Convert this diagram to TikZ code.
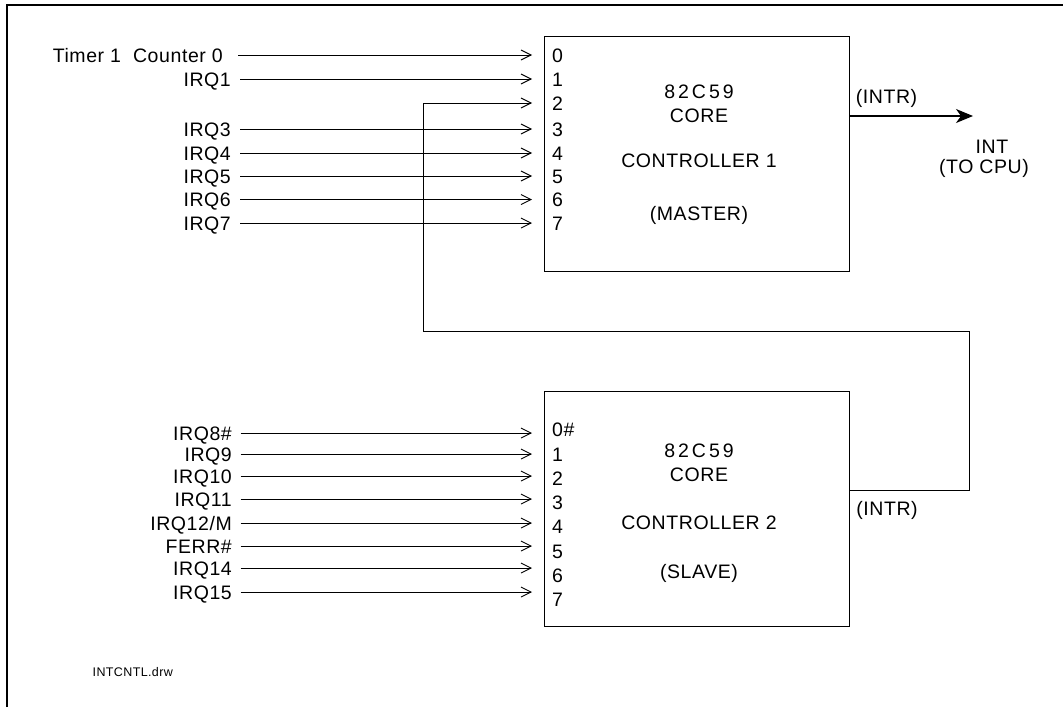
\documentclass[tikz,border=0pt]{standalone}
\usepackage{fontspec}
\setmainfont{Liberation Sans}
\newfontfamily\spacedfont[LetterSpace=3]{Liberation Sans}
\usetikzlibrary{arrows.meta}
\newcommand{\lsp}{\kern3pt}
\begin{document}
\begin{tikzpicture}[x=1pt,y=-1pt,
  lab/.style={font=\spacedfont\fontsize{19.5}{22}\selectfont, text height=14pt, text depth=0pt, inner sep=0pt},
  sig/.style={lab, anchor=east},
  pinlab/.style={lab, anchor=west},
  core/.style={draw, line width=0.9pt, minimum width=305pt, minimum height=235pt, inner sep=0pt},
  wire/.style={line width=0.9pt},
  inarrow/.style={wire, -{Straight Barb[length=10pt,width=10pt]}},
  outarrow/.style={line width=1.3pt, -{Stealth[length=17pt,width=14pt,inset=5pt]}},
  frame/.style={line width=2pt},
  tiny/.style={font=\spacedfont\fontsize{12.5}{14}\selectfont, text height=9pt, text depth=0pt, inner sep=0pt, anchor=west}]
\useasboundingbox (0,0) rectangle (1063,707);
% frame (top and left edges)
\draw[frame] (6.7,707) -- (6.7,5) -- (1063,5);

% controller boxes
\node[core] (m) at (696.5,153.5) {};
\node[core] (s) at (696.5,508.5) {};

% master inner text
\node[lab] (m1a) at (699,91.7) {8\lsp 2\lsp C\lsp 5\lsp 9};
\node[lab] (m1b) at (699,115) {CORE};
\node[lab] (m1c) at (699,160) {CONTROLLER 1};
\node[lab] (m1d) at (699,213) {(MASTER)};
% slave inner text
\node[lab] (s1a) at (699,450) {8\lsp 2\lsp C\lsp 5\lsp 9};
\node[lab] (s1b) at (699,474) {CORE};
\node[lab] (s1c) at (699,522.7) {CONTROLLER 2};
\node[lab] (s1d) at (699,571.7) {(SLAVE)};

% master pins and inputs
\foreach \i/\y in {0/55,1/79,2/103,3/129,4/153,5/176,6/199.5,7/223}{
  \node[pinlab] (mn\i) at (552,\y) {\i};
  \coordinate (mp\i) at (532,\y);
}
\node[sig] (ml0) at (223,55) {Timer 1\ \ Counter 0};
\draw[inarrow] ([xshift=15pt]ml0.east) -- (mp0);
\foreach \i/\y/\t in {1/79/IRQ1,3/129/IRQ3,4/153/IRQ4,5/176/IRQ5,6/199.5/IRQ6,7/223/IRQ7}{
  \node[sig] (ml\i) at (231,\y) {\t};
  \draw[inarrow] ([xshift=9pt]ml\i.east) -- (mp\i);
}

% slave pins
\foreach \i/\y/\t in {0/429/0\#,1/454/1,2/478/2,3/502/3,4/526/4,5/551/5,6/575/6,7/599/7}{
  \node[pinlab] (sn\i) at (552,\y) {\t};
}
\foreach \i/\y/\t in {0/433/IRQ8\#,1/454/IRQ9,2/476/IRQ10,3/499/IRQ11,4/523/{IRQ12/M},5/546/FERR\#,6/568/IRQ14,7/592/IRQ15}{
  \coordinate (sp\i) at (532,\y);
  \node[sig] (sl\i) at (232,\y) {\t};
  \draw[inarrow] ([xshift=8.5pt]sl\i.east) -- (sp\i);
}

% master output
\coordinate (mo) at (m.east |- 0,116);
\coordinate (int) at (973,116);
\draw[outarrow] (mo) -- (int);
\node[lab] (mintr) at (886.5,96.7) {(INTR)};
\node[lab] (intl) at (992,146) {INT};
\node[lab] (cpul) at (984,166) {(TO CPU)};

% cascade: slave INTR -> master IRQ2
\coordinate (so) at (s.east |- 0,490);
\coordinate (fbr) at (969,331);
\coordinate (fbl) at (423,103);
\draw[inarrow] (so) -| (fbr) -| (fbl) -- (mp2);
\node[lab] (sintr) at (887,508) {(INTR)};

% file tag
\node[tiny] (tag) at (92.5,672) {INTCNTL.drw};
\end{tikzpicture}
\end{document}
